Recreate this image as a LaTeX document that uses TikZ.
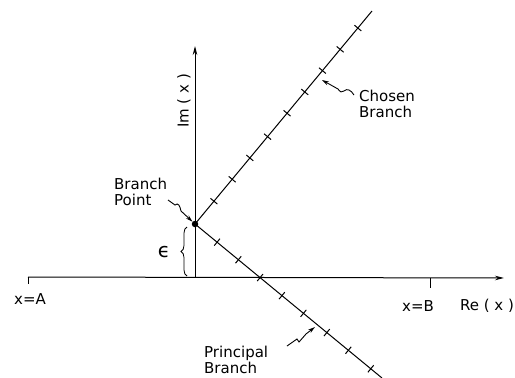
\documentclass[tikz,border=0pt]{standalone}
\usepackage{fontspec}
\setmainfont{DejaVu Sans}
\usetikzlibrary{arrows.meta,calc,decorations.pathreplacing}
\begin{document}
\begin{tikzpicture}[x=1pt,y=-1pt,
  axis/.style={line width=1pt},
  branchline/.style={line width=1pt},
  lbl/.style={font=\fontsize{15}{15.5}\selectfont, inner sep=0pt, align=left},
  axisarrow/.style={-{Stealth[length=9pt,width=4.5pt]}},
  ptr/.style={line width=0.9pt,-{Stealth[length=7pt,width=4pt]}},
  tickm/.style={line width=1pt}]
\useasboundingbox (0,0) rectangle (515,378);
% axes
\coordinate (xa) at (28,277);
\coordinate (xe) at (504,278);
\coordinate (xb) at (430,278);
\coordinate (ya) at (195,277);
\coordinate (ye) at (195,46);
\draw[axis,axisarrow] (xa) -- (xe);
\draw[tickm] (xa) -- ($(xa)+(0,7)$);
\draw[tickm] (xb) -- ($(xb)+(0,10)$);
\draw[axis,axisarrow] (ya) -- (ye);
% branches
\node[circle,fill,inner sep=0pt,minimum size=6.5pt] (bp) at (195,224) {};
\coordinate (ce) at (372,11);
\coordinate (pe) at (382,378);
\draw[branchline] (bp.center) -- (ce);
\draw[branchline] (bp.center) -- (pe);
\foreach \t in {0.107,0.21,0.31,0.41,0.52,0.62,0.72,0.82,0.92}{
  \coordinate (p) at ($(bp.center)!\t!(ce)$);
  \draw[tickm] ($(p)!4.5pt!90:(ce)$) -- ($(p)!4.5pt!-90:(ce)$);
}
\foreach \t in {0.118,0.232,0.348,0.465,0.58,0.705,0.82,0.94}{
  \coordinate (q) at ($(bp.center)!\t!(pe)$);
  \draw[tickm] ($(q)!4.5pt!90:(pe)$) -- ($(q)!4.5pt!-90:(pe)$);
}
% epsilon brace
\coordinate (br1) at (187,276);
\coordinate (br2) at (187,227);
\draw[line width=0.8pt, decorate, decoration={brace,amplitude=6pt}] (br1) -- (br2);
\node[lbl,font=\fontsize{20}{20}\selectfont] (eps) at (164,252) {ϵ};
% labels
\node[lbl,anchor=west] (cb) at (359,104) {Chosen\\Branch};
\node[lbl,anchor=west] (bpl) at (114,192) {Branch\\Point};
\node[lbl,anchor=west] (pb) at (204,360) {Principal\\Branch};
\node[lbl,rotate=90] (im) at (184,101) {Im ( x )};
\node[lbl] (re) at (487,306) {Re ( x )};
\node[lbl] (lb) at (418,306) {x=B};
\node[lbl] (la) at (30,299) {x=A};
% pointers
\coordinate (cbs) at (354,95);
\coordinate (cbt) at (322,80);
\draw[ptr] (cbs) .. controls (351,90) and (347,88) .. (344,91)
  .. controls (342,93) and (340,92) .. (338,89) -- (cbt);
\coordinate (bps) at (168,200);
\draw[ptr] (bps) -- (175,205) .. controls (178,202) and (180,206) .. (181,211) -- (bp);
\coordinate (pbs) at (287,346);
\coordinate (pbt) at (315,327);
\draw[ptr] (pbs) -- (297,339) -- (299,342) -- (306,334) -- (pbt);
\end{tikzpicture}
\end{document}
